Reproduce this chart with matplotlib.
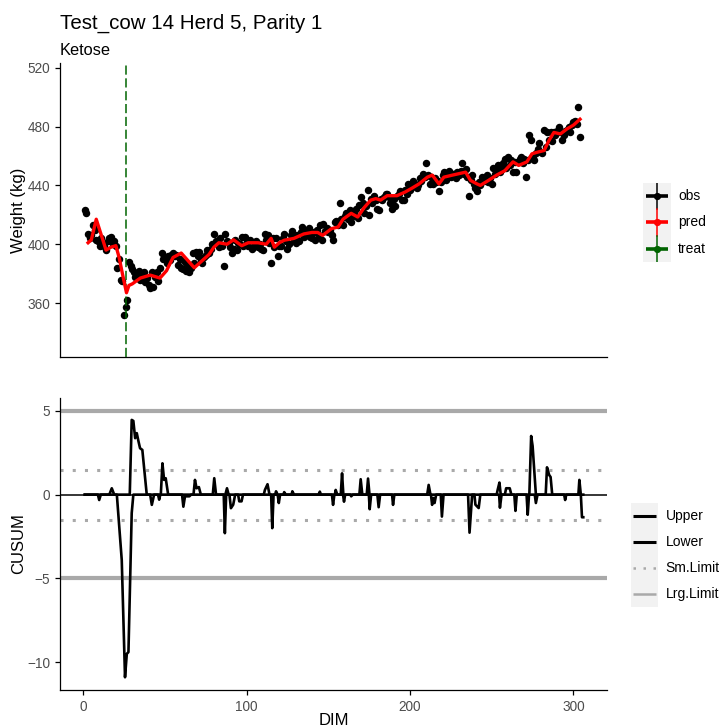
"""
Weight and CUSUM chart for one test cow: observed vs predicted weight,
treatment day, and the upper/lower CUSUM with small and large limits.
"""

import matplotlib
matplotlib.use("Agg")
import matplotlib.pyplot as plt
from matplotlib.patches import Rectangle
import numpy as np

plt.rcParams["font.family"] = ["Liberation Sans", "DejaVu Sans"]

# Data
# observed weight (kg), one value per day in milk starting at DIM 1
obs_wt = [
    423, 421, 407, 404, 406, 413, 410, 403, 402, 399,
    404, 400, 399, 396, 402, 404, 405, 400, 402, 399,
    384, 390, 376, 375, 352, 357, 362, 388, 385, 383,
    381, 378, 380, 382, 376, 379, 381, 374, 377, 372,
    370, 381, 371, 378, 381, 375, 384, 394, 390, 391,
    387, 392, 389, 393, 394, 392, 393, 386, 390, 384,
    383, 388, 382, 386, 381, 384, 394, 387, 395, 392,
    395, 389, 387, 391, 393, 396, 394, 397, 400, 407,
    402, 401, 398, 404, 399, 385, 407, 402, 401, 398,
    394, 397, 403, 396, 401, 400, 405, 399, 405, 402,
    399, 403, 397, 398, 401, 402, 398, 400, 397, 396,
    407, 403, 406, 401, 387, 404, 398, 404, 392, 399,
    399, 404, 407, 402, 397, 400, 406, 409, 403, 401,
    406, 402, 408, 412, 405, 409, 407, 411, 405, 404,
    408, 403, 410, 406, 413, 403, 414, 409, 411, 408,
    410, 406, 403, 415, 416, 413, 428, 417, 413, 419,
    421, 417, 423, 415, 419, 421, 424, 418, 427, 432,
    428, 421, 426, 437, 420, 431, 428, 433, 430, 424,
    423, 431, 430, 432, 434, 434, 432, 428, 424, 431,
    426, 433, 434, 436, 430, 430, 437, 434, 441, 437,
    439, 443, 441, 438, 440, 445, 443, 448, 446, 455,
    447, 441, 446, 441, 445, 442, 443, 436, 442, 447,
    449, 444, 447, 450, 446, 448, 448, 445, 449, 447,
    450, 455, 448, 451, 446, 433, 444, 447, 441, 438,
    436, 442, 440, 446, 443, 444, 447, 442, 445, 441,
    452, 448, 450, 454, 449, 451, 455, 458, 452, 459,
    454, 457, 449, 456, 449, 456, 458, 459, 455, 458,
    446, 457, 474, 471, 460, 457, 462, 465, 469, 463,
    462, 478, 466, 476, 471, 476, 470, 476, 474, 477,
    480, 476, 471, 474, 477, 478, 480, 476, 481, 483,
    484, 482, 493, 473,
]
obs_dim = np.arange(1, len(obs_wt) + 1)

pred_dim = [3, 5, 8, 10, 14, 17, 20, 22, 24, 26.5, 28, 30, 35, 41, 47, 51,
            55, 60, 64, 68, 73, 77, 80, 83, 88, 92, 97, 101, 107, 112, 115,
            117, 120, 123, 129, 135, 140, 143.5, 146.5, 152, 156, 159, 164,
            168, 172, 176, 179, 182, 186, 192, 197, 201, 205.5, 210.6,
            213.6, 217.7, 220.7, 226, 230, 234, 237, 241, 243, 248, 253,
            258, 263, 266.5, 271.5, 274.6, 278, 282, 285, 288, 292, 296,
            300, 304]
pred_wt = [401, 403, 417, 410, 396, 398, 399, 391, 380, 367, 372, 373, 377,
           379, 377, 382, 391, 394, 389, 384, 389, 393, 398, 401, 400, 403,
           399, 401, 401, 400, 404, 398, 401, 402.7, 404, 407, 408, 408, 406,
           410.6, 411.7, 417, 421, 418.5, 425, 430, 431, 430, 433, 433,
           435.5, 438, 441, 445.6, 447, 441, 445.6, 447, 448, 449, 443.4,
           441, 440, 443.4, 447, 450, 456, 453.6, 456, 461.5, 462.6, 463.7,
           470.5, 476, 475, 478.4, 481, 485]

treat_dim = 26.3

upper_dim = [1, 16, 17.5, 19, 28.5, 29.7, 30.7, 31.8, 32.8, 33.8, 34.8, 36.2,
             38.9, 47.5, 48.5, 49.5, 50.5, 52, 67.5, 68.4, 69.4, 70.8, 72,
             79.3, 80.2, 81.3, 87, 88, 89, 110.5, 111.2, 112.8, 114, 117.5,
             118, 119, 122.5, 123, 124, 127.5, 128, 129, 144, 144.8, 145.5,
             154, 154.5, 155.5, 157.6, 158.4, 159.2, 169, 169.8, 170.8,
             173.5, 174.3, 175.2, 210.5, 211.4, 212.5, 253, 253.6, 254.7,
             255.5, 258, 258.8, 261, 262, 273, 274.1, 275, 277, 283, 283.8,
             285.1, 286, 287, 303, 303.6, 304.5, 306]
upper_val = [0, 0, 0.38, 0, 0, 4.46, 4.4, 3.37, 3.67, 3.2, 2.77, 2.67,
             0, 0, 1.87, 0.88, 0.98, 0, 0, 0.88, 0.38, 0.45, 0,
             0, 0.98, 0, 0, 0.38, 0, 0, 0.28, 0.62, 0, 0,
             0.2, 0, 0, 0.15, 0, 0, 0.2, 0, 0, 0.18, 0,
             0, 0.28, 0, 0, 1.27, 0, 0, 0.92, 0,
             0, 0.96, 0, 0, 0.58, 0, 0, 0.28, 0.72,
             0, 0, 0.38, 0.38, 0, 0, 3.5, 2.9, 0, 0, 1.63,
             1.18, 1.05, 0, 0, 0.88, 0, 0]

lower_dim = [1, 9, 9.8, 10.8, 20.6, 23.6, 25.6, 26.7, 27.7, 29.7, 30.7, 41,
             42, 43.4, 45.8, 46.5, 47.2, 60.5, 61.3, 62.3, 65, 66, 86, 86.7,
             87.5, 89.5, 90.4, 91.8, 93, 94.8, 95.5, 96.9, 97.8, 115, 115.7,
             116.5, 119, 119.7, 120.5, 152.2, 152.9, 153.7, 159, 159.6, 160.3,
             163.5, 164, 165, 174.8, 175.3, 176.2, 180, 180.8, 181.7, 189,
             189.6, 190.4, 212.8, 213.5, 214.3, 215, 216, 218.8, 219.5, 220.5,
             235.5, 236.4, 238, 239.4, 240, 242, 243, 254.5, 255, 256, 263.8,
             264.5, 265.3, 271.3, 272, 272.8, 276.3, 277, 278, 294.3, 294.9,
             295.6, 304.5, 305.2, 306]
lower_val = [0, 0, -0.32, 0, 0, -3.9, -10.9, -9.5, -9.4, -1.1, 0, 0,
             -0.61, 0, 0, -0.3, 0, 0, -0.72, -0.1, -0.1, 0, 0, -2.3,
             0, 0, -0.81, -0.6, 0, 0, -0.4, -0.4, 0, 0, -2.0,
             0, 0, -0.5, 0, 0, -0.61, 0, 0, -0.42, 0,
             0, -0.1, 0, 0, -0.87, 0, 0, -0.75, 0, 0,
             -0.61, 0, 0, -0.61, -0.2, -0.5, 0, 0, -1.31, 0,
             0, -2.27, 0, 0, -0.6, -0.8, 0, 0, -0.78, 0, 0,
             -0.97, 0, 0, -1.2, 0, 0, -0.5, 0, 0, -0.32,
             0, 0, -1.35, -1.35]

small_limit = 1.5
large_limit = 5

weight_ticks = [360, 400, 440, 480, 520]
cusum_ticks = [-10, -5, 0, 5]
dim_ticks = [0, 100, 200, 300]

# Styling
GREEN = "#006400"
LIMIT_GREY = "#A9A9A9"
TICK_GREY = "#4D4D4D"
KEY_BG = "#F2F2F2"


def style_axis(ax):
    for side in ("top", "right"):
        ax.spines[side].set_visible(False)
    for side in ("left", "bottom"):
        ax.spines[side].set_linewidth(0.9)
    ax.tick_params(direction="out", length=3.5, width=0.9,
                   colors="black", labelcolor=TICK_GREY, labelsize=9.8)


fig = plt.figure(figsize=(7.19, 7.27), dpi=100)
ax_w = fig.add_axes([0.0834, 0.5089, 0.7608, 0.4044])
ax_c = fig.add_axes([0.0834, 0.0509, 0.7608, 0.4017])

# Top panel: weight
ax_w.scatter(obs_dim, obs_wt, s=29, color="black", linewidths=0, zorder=2)
ax_w.axvline(treat_dim, color=GREEN, lw=1.1, ls=(0, (6, 2.4)), zorder=3)
ax_w.plot(pred_dim, pred_wt, color="red", lw=2.4, zorder=4,
          solid_joinstyle="round")
ax_w.set_xlim(-14.2, 320.5)
ax_w.set_ylim(323.3, 523.2)
ax_w.set_yticks(weight_ticks)
ax_w.set_xticks([])
ax_w.set_ylabel("Weight (kg)", fontsize=12, labelpad=1)
style_axis(ax_w)
ax_w.set_title("Ketose", loc="left", fontsize=11.8, pad=6)
fig.text(0.0834, 0.968, "Test_cow 14 Herd 5, Parity 1", fontsize=14.8,
         ha="left", va="center")

# Bottom panel: CUSUM
for lim in (large_limit, -large_limit):
    ax_c.axhline(lim, color=LIMIT_GREY, lw=3, zorder=1)
for lim in (small_limit, -small_limit):
    ax_c.axhline(lim, color=LIMIT_GREY, lw=2.2, ls=(0, (1, 3)),
                 dash_capstyle="butt", zorder=1)
ax_c.axhline(0, color="black", lw=1.1, zorder=2)
ax_c.plot(upper_dim, upper_val, color="black", lw=1.9, zorder=3)
ax_c.plot(lower_dim, lower_val, color="black", lw=1.9, zorder=3)
ax_c.set_xlim(-14.2, 320.5)
ax_c.set_ylim(-11.66, 5.77)
ax_c.set_xticks(dim_ticks)
ax_c.set_yticks(cusum_ticks)
ax_c.set_yticklabels(["\u221210", "\u22125", "0", "5"])
ax_c.set_ylabel("CUSUM", fontsize=12, labelpad=1)
style_axis(ax_c)
fig.text(0.4638, 0.0193, "DIM", fontsize=12, ha="center", va="top")

# Legend for the weight panel
leg_w = fig.add_axes([0.8943, 0.6396, 0.0389, 0.1087])
leg_w.set_xlim(0, 1)
leg_w.set_ylim(0, 3)
leg_w.axis("off")
leg_w.add_patch(Rectangle((0, 0), 1, 3, color=KEY_BG, lw=0))
for row, (name, col) in enumerate([("obs", "black"), ("pred", "red"),
                                   ("treat", GREEN)]):
    yc = 2.5 - row
    leg_w.plot([0.5, 0.5], [yc - 0.5, yc + 0.5], color=col, lw=1.1)
    leg_w.plot([0.11, 0.89], [yc, yc], color=col, lw=2.6,
               solid_capstyle="butt")
    leg_w.plot([0.5], [yc], "o", color=col, ms=5.2, mew=0)
    fig.text(0.943, 0.6396 + 0.1087 * yc / 3, name, fontsize=10,
             ha="left", va="center")

# Legend for the CUSUM panel
leg_c = fig.add_axes([0.8776, 0.1651, 0.0376, 0.1431])
leg_c.set_xlim(0, 1)
leg_c.set_ylim(0, 4)
leg_c.axis("off")
leg_c.add_patch(Rectangle((0, 0), 1, 4, color=KEY_BG, lw=0))
keys = [("Upper", "black", 2.2, "-"), ("Lower", "black", 2.2, "-"),
        ("Sm.Limit", LIMIT_GREY, 1.8, (0, (1, 3))),
        ("Lrg.Limit", LIMIT_GREY, 1.8, "-")]
for row, (name, col, lw, ls) in enumerate(keys):
    yc = 3.5 - row
    leg_c.plot([0.08, 0.92], [yc, yc], color=col, lw=lw, ls=ls,
               solid_capstyle="butt", dash_capstyle="butt")
    fig.text(0.926, 0.1651 + 0.1431 * yc / 4, name, fontsize=10,
             ha="left", va="center")

fig.savefig("out.png", dpi=100)
